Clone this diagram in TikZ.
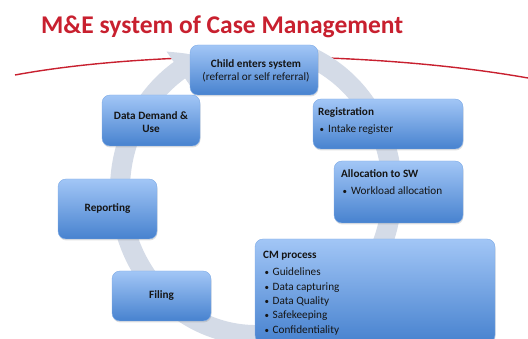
\documentclass[tikz,border=0pt]{standalone}
\usepackage{fontspec}
\setmainfont{Carlito}
\usetikzlibrary{arrows.meta,shadows,bending}
\definecolor{titlered}{HTML}{C8202F}
\definecolor{ringgray}{HTML}{D4DBE7}
\definecolor{boxtop}{HTML}{A2C6F6}
\definecolor{boxbot}{HTML}{4782CF}
\definecolor{ink}{HTML}{151515}
\begin{document}
\begin{tikzpicture}[x=1pt,y=1pt,
  stage/.style={rounded corners=8pt, top color=boxtop, bottom color=boxbot,
    draw=boxtop!60!boxbot, line width=0.4pt, inner sep=0pt,
    drop shadow={opacity=0.25,shadow xshift=0.5pt,shadow yshift=-1.5pt}},
  head/.style={font=\fontsize{11.2}{13}\selectfont\bfseries, text=ink, inner sep=0pt},
  item/.style={font=\fontsize{11.2}{13}\selectfont, text=ink, inner sep=0pt},
  dot/.style={font=\fontsize{9}{11}\selectfont, text=ink, inner sep=0pt},
]
\useasboundingbox (0,0) rectangle (528,-339);

% title
\node[anchor=base west, inner sep=0pt, text=titlered,
      font=\fontsize{25.5}{28}\selectfont\bfseries] (title) at (41,-33.5)
      {M\&E system of Case Management};

% red horizon line
\coordinate (hl) at (15,-75);
\coordinate (hr) at (528,-78);
\draw[titlered, line width=1.4pt] (hl) .. controls (150,-50) and (370,-50) .. (hr);

% circular arrow behind the stages
\coordinate (hub) at (256,-190);
\draw[ringgray, line width=20pt, -{Triangle[width=44pt,length=26pt,bend]}]
  ([shift={(66:136 and 145)}]hub) arc[start angle=66, end angle=-246.5,
  x radius=136, y radius=145];

% stages
\node[stage, minimum width=128pt, minimum height=50pt] (child) at (254,-70) {};
\node[stage, minimum width=98pt,  minimum height=51pt] (demand) at (151,-120.5) {};
\node[stage, minimum width=150pt, minimum height=50pt] (reg) at (388,-124) {};
\node[stage, minimum width=129pt, minimum height=62pt] (alloc) at (398.5,-192) {};
\node[stage, minimum width=99pt,  minimum height=60pt] (report) at (107.5,-209) {};
\node[stage, minimum width=99pt,  minimum height=50pt] (filing) at (161.5,-296) {};
\node[stage, minimum width=240pt, minimum height=104pt] (cm) at (375,-291) {};

% child enters system
\node[head, anchor=base] (childA) at (256,-68) {Child enters system};
\node[item, anchor=base] (childB) at (256,-81) {(referral or self referral)};

% data demand
\node[head, anchor=base] (demandA) at (151,-120) {Data Demand \&};
\node[head, anchor=base] (demandB) at (151,-132.5) {Use};

% registration
\node[head, anchor=base west] (regA) at (318,-116) {Registration};
\node[dot, anchor=base west] (regD) at (319.5,-133) {\textbullet};
\node[item, anchor=base west] (regB) at (328,-133) {Intake register};

% allocation
\node[head, anchor=base west] (allocA) at (341,-178) {Allocation to SW};
\node[dot, anchor=base west] (allocD) at (342.5,-195) {\textbullet};
\node[item, anchor=base west] (allocB) at (351,-195) {Workload allocation};

% reporting and filing
\node[head] (reportA) at (report) {Reporting};
\node[head] (filingA) at (filing) {Filing};

% CM process
\node[head, anchor=base west] (cmA) at (263,-259) {CM process};
\node[dot, anchor=base west] (cmD1) at (264.5,-276) {\textbullet};
\node[item, anchor=base west] (cm1) at (272.5,-276) {Guidelines};
\node[dot, anchor=base west] (cmD2) at (264.5,-290.5) {\textbullet};
\node[item, anchor=base west] (cm2) at (272.5,-290.5) {Data capturing};
\node[dot, anchor=base west] (cmD3) at (264.5,-305) {\textbullet};
\node[item, anchor=base west] (cm3) at (272.5,-305) {Data Quality};
\node[dot, anchor=base west] (cmD4) at (264.5,-319) {\textbullet};
\node[item, anchor=base west] (cm4) at (272.5,-319) {Safekeeping};
\node[dot, anchor=base west] (cmD5) at (264.5,-333.5) {\textbullet};
\node[item, anchor=base west] (cm5) at (272.5,-333.5) {Confidentiality};
\end{tikzpicture}
\end{document}
